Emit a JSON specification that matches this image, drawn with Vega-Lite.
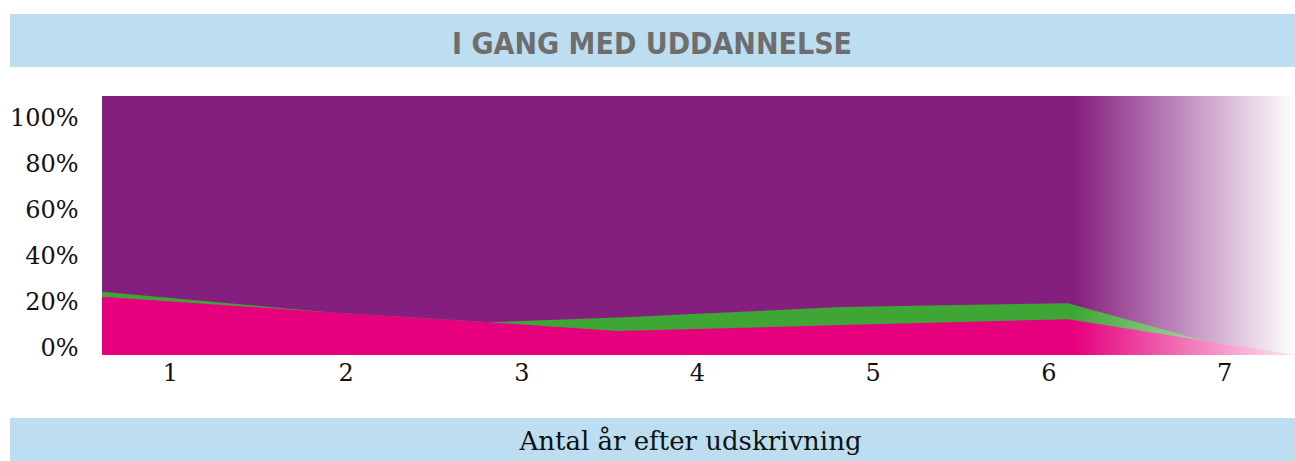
{
  "$schema": "https://vega.github.io/schema/vega-lite/v6.json",
  "width": 1193,
  "height": 259,
  "autosize": {"type": "none"},
  "padding": {"left": 102, "top": 96, "right": 0, "bottom": 106},
  "background": "white",
  "config": {"view": {"stroke": null}},
  "datasets": {
    "andele": [
      {"aar": 0.613, "a": 0.2546, "ab": 0.2764},
      {"aar": 1.90, "a": 0.187, "ab": 0.187},
      {"aar": 2.82, "a": 0.143, "ab": 0.143},
      {"aar": 3.545, "a": 0.105, "ab": 0.164},
      {"aar": 4.828, "a": 0.1306, "ab": 0.2096},
      {"aar": 6.112, "a": 0.156, "ab": 0.226},
      {"aar": 6.88, "a": 0.063, "ab": 0.063},
      {"aar": 7.404, "a": 0.0, "ab": 0.0}
    ]
  },
  "layer": [
    {
      "data": {"values": [{"band": "top"}]},
      "mark": {"type": "rect", "clip": false, "color": "#bcdef0"},
      "encoding": {
        "x": {"datum": 0.0893, "type": "quantitative", "scale": {"domain": [0.613, 7.404], "nice": false, "zero": false}},
        "x2": {"datum": 7.7},
        "y": {"datum": 1.2576, "type": "quantitative", "scale": {"domain": [0, 1.131], "nice": false, "zero": false}},
        "y2": {"datum": 1.489}
      }
    },
    {
      "data": {"values": [{"band": "bottom"}]},
      "mark": {"type": "rect", "clip": false, "color": "#bcdef0"},
      "encoding": {
        "x": {"datum": 0.0893, "type": "quantitative", "scale": {"domain": [0.613, 7.404], "nice": false, "zero": false}},
        "x2": {"datum": 7.7},
        "y": {"datum": -0.2751, "type": "quantitative", "scale": {"domain": [0, 1.131], "nice": false, "zero": false}},
        "y2": {"datum": -0.55}
      }
    },
    {
      "data": {"values": [{"band": "rest"}]},
      "mark": {
        "type": "rect",
        "color": {"gradient": "linear", "x1": 0, "y1": 0, "x2": 1, "y2": 0,
          "stops": [{"offset": 0, "color": "#841e7f"}, {"offset": 0.815, "color": "#841e7f"}, {"offset": 1, "color": "#ffffff"}]}
      },
      "encoding": {
        "x": {"datum": 0.613, "type": "quantitative", "scale": {"domain": [0.613, 7.404], "nice": false, "zero": false}},
        "x2": {"datum": 7.404},
        "y": {"datum": 0, "type": "quantitative", "scale": {"domain": [0, 1.131], "nice": false, "zero": false}},
        "y2": {"datum": 1.131}
      }
    },
    {
      "data": {"name": "andele"},
      "mark": {
        "type": "area",
        "color": {"gradient": "linear", "x1": 0, "y1": 0, "x2": 1, "y2": 0,
          "stops": [{"offset": 0, "color": "#3fa535"}, {"offset": 0.815, "color": "#3fa535"}, {"offset": 1, "color": "#f2fbf1"}]}
      },
      "encoding": {
        "x": {"field": "aar", "type": "quantitative", "scale": {"domain": [0.613, 7.404], "nice": false, "zero": false}},
        "y": {"field": "ab", "type": "quantitative", "scale": {"domain": [0, 1.131], "nice": false, "zero": false}}
      }
    },
    {
      "data": {"name": "andele"},
      "mark": {
        "type": "area",
        "color": {"gradient": "linear", "x1": 0, "y1": 0, "x2": 1, "y2": 0,
          "stops": [{"offset": 0, "color": "#e6007e"}, {"offset": 0.815, "color": "#e6007e"}, {"offset": 1, "color": "#fde6f2"}]}
      },
      "encoding": {
        "x": {
          "field": "aar", "type": "quantitative",
          "scale": {"domain": [0.613, 7.404], "nice": false, "zero": false},
          "axis": {
            "values": [1, 2, 3, 4, 5, 6, 7], "format": "d",
            "title": "Antal år efter udskrivning",
            "domain": false, "ticks": false, "grid": false,
            "labelFont": "DejaVu Serif", "labelFontSize": 24, "labelColor": "#111111",
            "labelPadding": 6, "labelFlush": false,
            "titleFont": "DejaVu Serif", "titleFontSize": 26, "titleFontWeight": "normal", "titleColor": "#111111",
            "titleX": 588, "titleY": 94, "titleAlign": "center", "titleBaseline": "alphabetic",
            "zindex": 2
          }
        },
        "y": {
          "field": "a", "type": "quantitative",
          "scale": {"domain": [0, 1.131], "nice": false, "zero": false},
          "axis": {
            "values": [0, 0.2, 0.4, 0.6, 0.8, 1.0], "format": ".0%",
            "title": null,
            "domain": false, "ticks": false, "grid": false,
            "labelFont": "DejaVu Serif", "labelFontSize": 24, "labelColor": "#111111",
            "labelPadding": 24, "labelBaseline": "alphabetic", "labelFlush": false,
            "zindex": 2
          }
        }
      }
    },
    {
      "data": {"values": [{"tekst": "I GANG MED UDDANNELSE"}]},
      "mark": {
        "type": "text", "clip": false,
        "font": "Liberation Sans Narrow, DejaVu Sans Condensed, Roboto Condensed, Open Sans Condensed, Roboto",
        "fontWeight": "bold", "fontSize": 30,
        "color": "#6e6e6e", "align": "center", "baseline": "alphabetic"
      },
      "encoding": {
        "text": {"field": "tekst"},
        "x": {"datum": 3.744, "type": "quantitative", "scale": {"domain": [0.613, 7.404], "nice": false, "zero": false}},
        "y": {"datum": 1.3144, "type": "quantitative", "scale": {"domain": [0, 1.131], "nice": false, "zero": false}}
      }
    }
  ]
}
